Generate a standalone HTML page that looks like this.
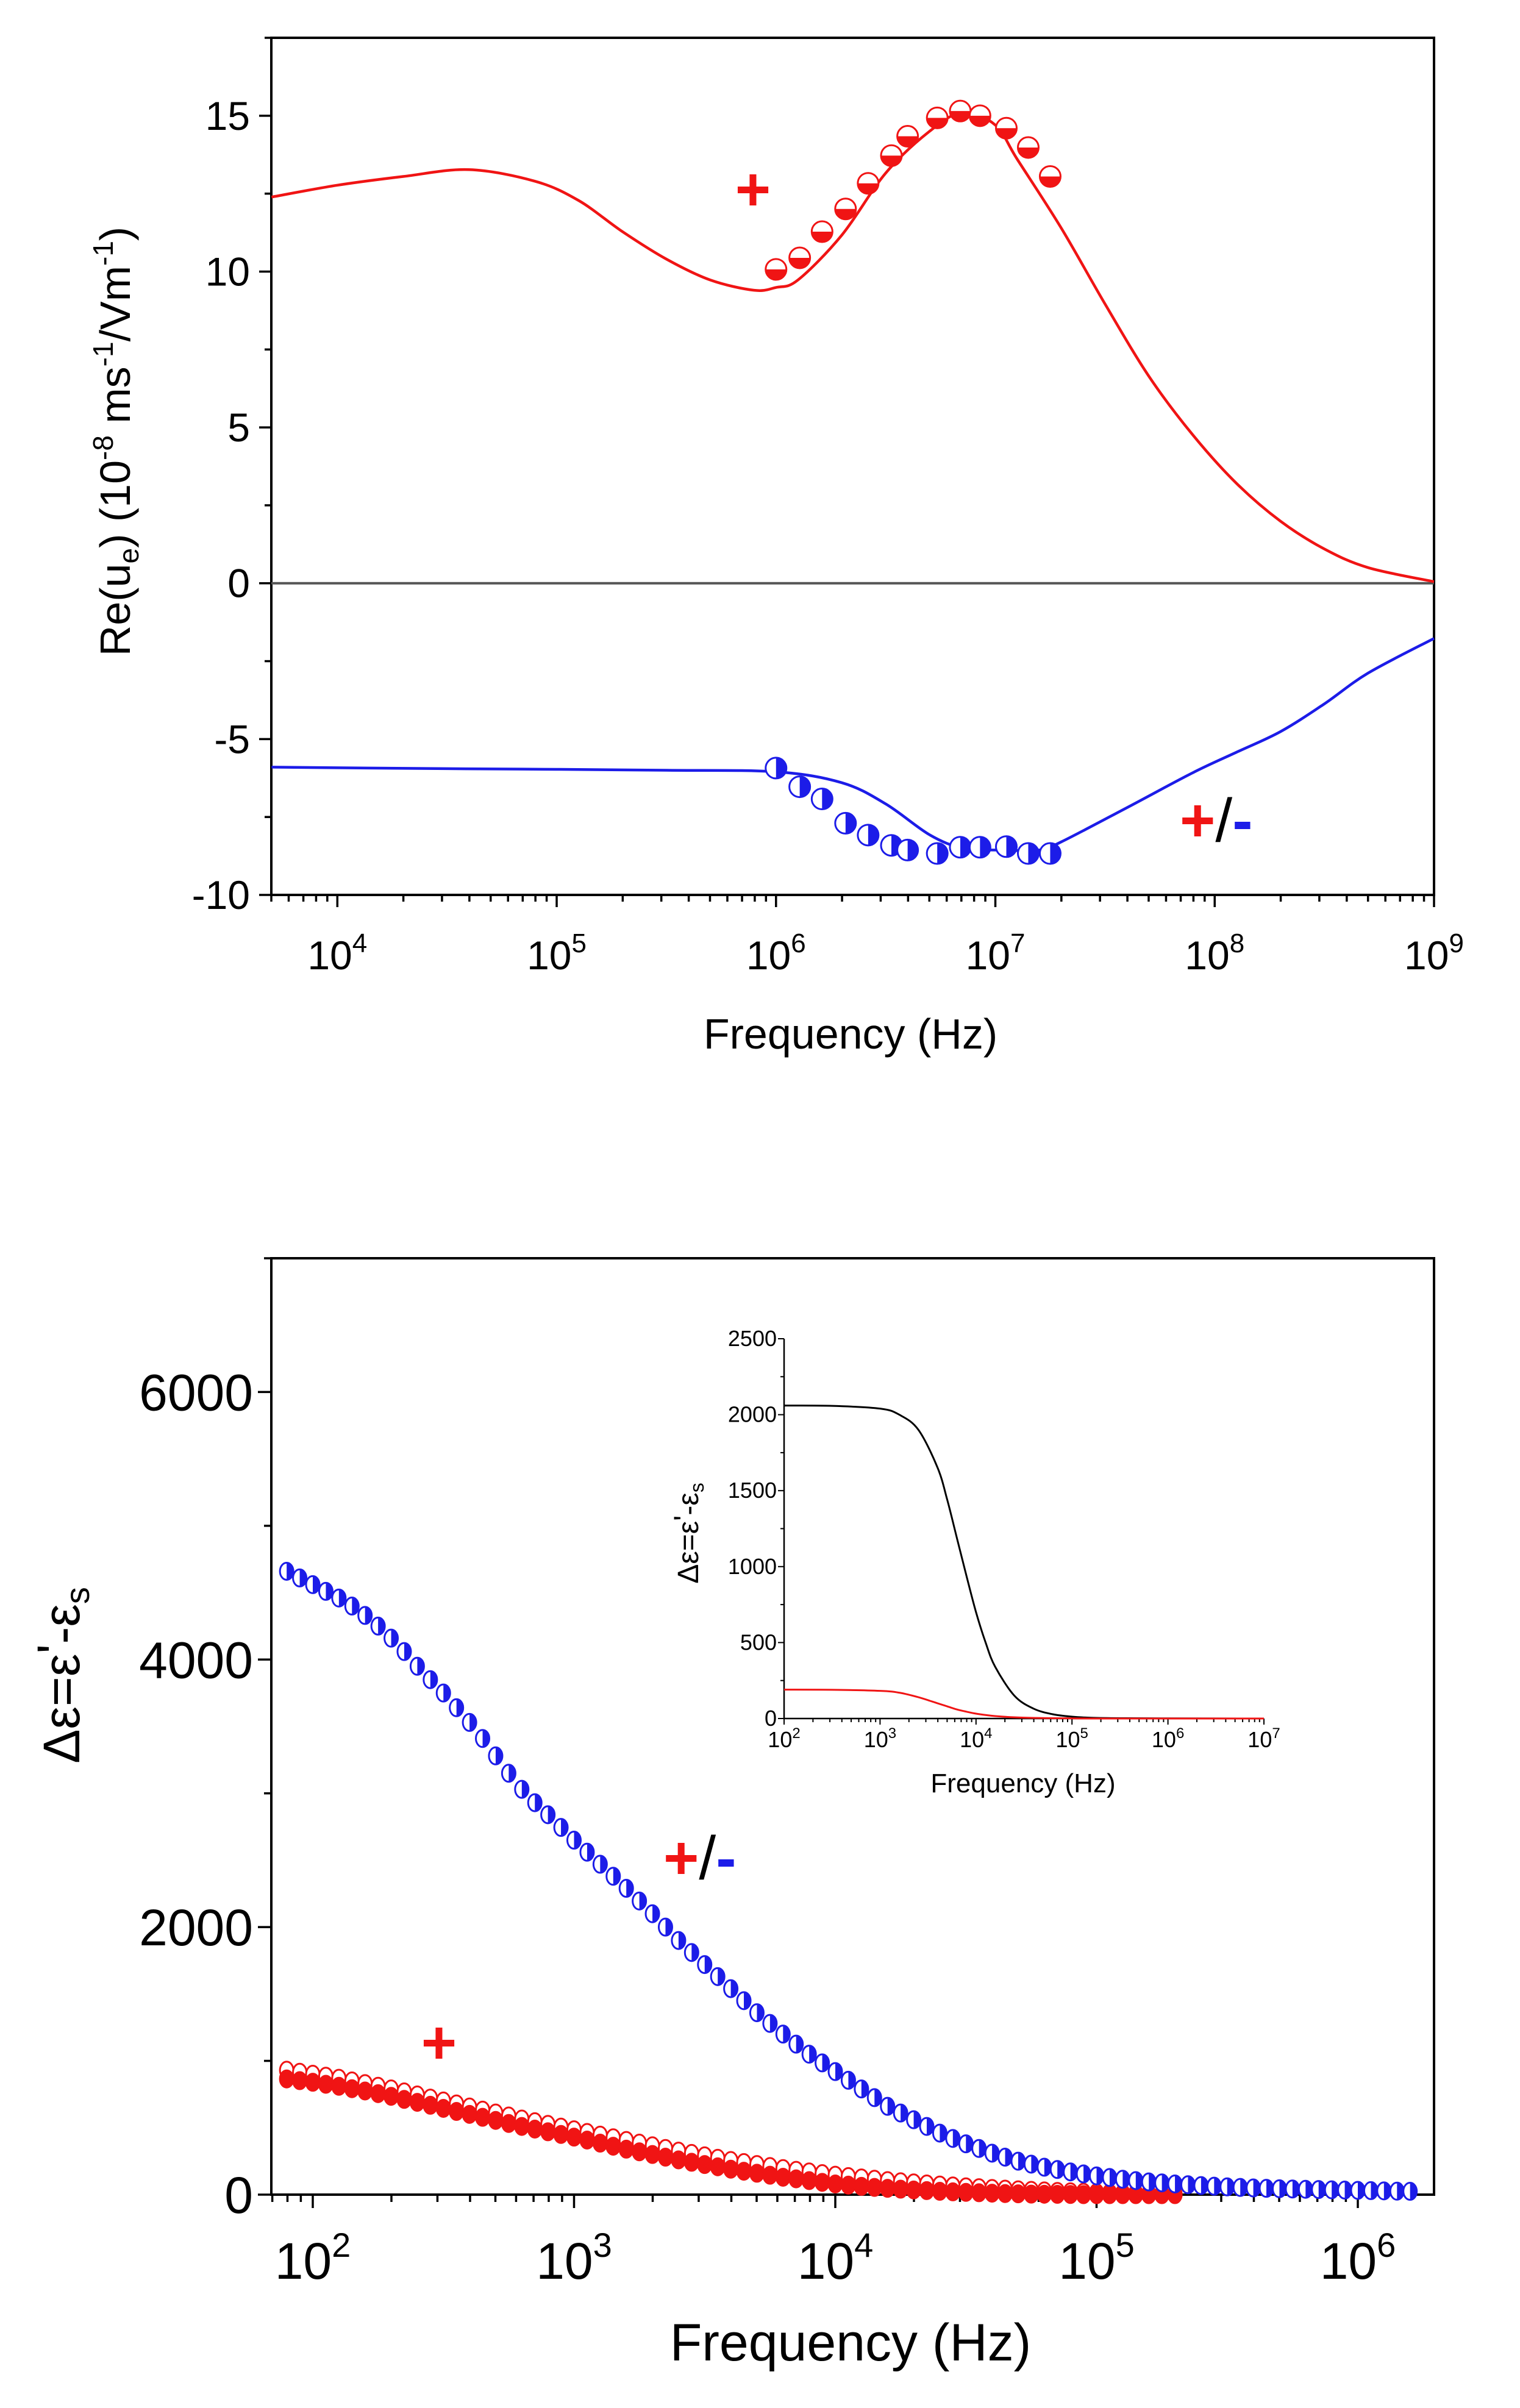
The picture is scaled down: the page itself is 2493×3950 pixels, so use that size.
<!DOCTYPE html>
<html><head><meta charset="utf-8">
<style>
html,body{margin:0;padding:0;background:#fff;}
svg{display:block;font-family:"Liberation Sans",Arial,sans-serif;}
</style></head>
<body>
<svg id="chart" width="2493" height="3950" viewBox="0 0 2493 3950" xmlns="http://www.w3.org/2000/svg">
<rect width="2493" height="3950" fill="#fff"/>
<g id="top"></g>
<g id="bot"></g>
<g id="ins"></g>
</svg>
<script>
// ---------- TOP CHART DATA ----------
const topCurveLogF = [3.7,4.0,4.3,4.6,4.9,5.1,5.3,5.5,5.7,5.9,6.0,6.1,6.3,6.5,6.7,6.85,7.0,7.1,7.3,7.5,7.7,7.9,8.1,8.3,8.5,8.7,9.0];
const topRedCurve = [12.39,12.77,13.05,13.27,12.9,12.28,11.28,10.4,9.73,9.4,9.49,9.73,11.17,13.16,14.5,15.1,14.7,13.6,11.4,8.96,6.64,4.76,3.2,1.99,1.1,0.5,0.05];
const topBlueLogF = [3.7,4.5,5.0,5.5,6.0,6.3,6.5,6.7,6.85,7.0,7.2,7.3,7.6,7.9,8.1,8.3,8.5,8.7,9.0];
const topBlueCurve = [-5.9,-5.95,-5.97,-6.0,-6.05,-6.4,-7.08,-8.07,-8.5,-8.56,-8.56,-8.3,-7.2,-6.08,-5.42,-4.76,-3.87,-2.88,-1.77];
const topPtsLogF = [6.0,6.108,6.21,6.317,6.42,6.526,6.60,6.735,6.84,6.93,7.05,7.15,7.25];
const topRedPts = [10.07,10.44,11.28,12.01,12.83,13.72,14.34,14.93,15.15,15.0,14.6,13.98,13.05];
const topBluePts = [-5.93,-6.53,-6.92,-7.7,-8.08,-8.41,-8.56,-8.67,-8.47,-8.47,-8.45,-8.67,-8.67];
const topYTicks = [-10,-5,0,5,10,15];
const topXTicks = [4,5,6,7,8,9];

// ---------- BOTTOM CHART DATA ----------
const botLogF = [1.9,1.95,2.0,2.05,2.1,2.15,2.2,2.25,2.3,2.35,2.4,2.45,2.5,2.55,2.6,2.65,2.7,2.75,2.8,2.85,2.9,2.95,3.0,3.05,3.1,3.15,3.2,3.25,3.3,3.35,3.4,3.45,3.5,3.55,3.6,3.65,3.7,3.75,3.8,3.85,3.9,3.95,4.0,4.05,4.1,4.15,4.2,4.25,4.3,4.35,4.4,4.45,4.5,4.55,4.6,4.65,4.7,4.75,4.8,4.85,4.9,4.95,5.0,5.05,5.1,5.15,5.2,5.25,5.3,5.35,5.4,5.45,5.5,5.55,5.6,5.65,5.7,5.75,5.8,5.85,5.9,5.95,6.0,6.05,6.1,6.15,6.2];
const botBlue = [4660,4610,4560,4510,4460,4400,4330,4250,4160,4060,3950,3850,3750,3640,3530,3410,3280,3150,3030,2930,2840,2745,2650,2560,2470,2380,2290,2195,2100,2000,1900,1810,1720,1630,1540,1450,1360,1280,1200,1125,1050,985,920,855,790,725,660,610,560,510,460,420,380,345,310,280,250,228,205,188,170,155,140,128,115,105,95,88,80,74,68,63,58,54,50,47,44,42,40,38,36,34,32,30,28,26,25];
const botRedOpen = [930,915,900,885,870,850,830,810,790,768,745,722,700,678,655,632,610,588,565,545,525,505,485,465,445,425,405,385,365,345,325,308,290,272,255,240,225,210,195,182,170,157,145,135,125,115,105,96,88,80,72,65,58,52,46,41,36,32,28,24,21,18,15,12,10,8,6,4,3];
const botRedFilled = [865,852,840,825,810,792,775,755,735,712,690,668,645,622,600,578,555,532,510,490,470,450,430,408,385,362,340,320,300,280,260,242,225,208,190,175,160,145,130,118,105,92,80,71,62,54,47,41,35,30,25,21,17,14,11,8,6,4,3,2,1,0,0,0,0,0,0,0,0];
const botYTicks = [0,2000,4000,6000];
const botXTicks = [2,3,4,5,6];

// ---------- INSET DATA ----------
const insLogF = [2.0,2.5,3.0,3.2,3.4,3.6,3.7,3.8,3.9,4.0,4.1,4.2,4.4,4.6,4.8,5.0,5.2,5.5,6.0,7.0];
const insBlack = [2060,2058,2040,2000,1900,1650,1440,1190,940,700,500,340,150,65,28,12,5,2,1,0];
const insRed = [190,189,182,170,140,100,80,60,45,32,23,16,8,4,2,1,0,0,0,0];
const insYTicks = [0,500,1000,1500,2000,2500];
const insXTicks = [2,3,4,5,6,7];

const NS="http://www.w3.org/2000/svg";
function mk(parent,tag,attrs,text){const e=document.createElementNS(NS,tag);for(const k in attrs)e.setAttribute(k,attrs[k]);if(text!==undefined)e.textContent=text;parent.appendChild(e);return e;}
function smooth(pts){let d=`M${pts[0][0]},${pts[0][1]}`;for(let i=0;i<pts.length-1;i++){const p0=pts[Math.max(0,i-1)],p1=pts[i],p2=pts[i+1],p3=pts[Math.min(pts.length-1,i+2)];const c1=[p1[0]+(p2[0]-p0[0])/6,p1[1]+(p2[1]-p0[1])/6],c2=[p2[0]-(p3[0]-p1[0])/6,p2[1]-(p3[1]-p1[1])/6];d+=` C${c1[0]},${c1[1]} ${c2[0]},${c2[1]} ${p2[0]},${p2[1]}`;}return d;}
const RED="#f01414", BLUE="#1c1ce8";

// ===== TOP =====
(function(){
const g=document.getElementById('top');
const L=445,R=2352,T=62,B=1468;
const xmin=Math.log10(5000),xmax=9,ymin=-10,ymax=17.5;
const X=v=>L+(v-xmin)/(xmax-xmin)*(R-L);
const Y=v=>B-(v-ymin)/(ymax-ymin)*(B-T);
const fr=mk(g,'rect',{x:L,y:T,width:R-L,height:B-T,fill:'none',stroke:'#000','stroke-width':4});


const z=mk(g,'line',{x1:L,x2:R,y1:Y(0),y2:Y(0),stroke:'#555','stroke-width':4});


for(let v=-10;v<=17.5;v+=2.5){const maj=v%5===0;mk(g,'line',{x1:L,x2:L-(maj?20:11),y1:Y(v),y2:Y(v),stroke:'#000','stroke-width':3.5});}
topYTicks.forEach(v=>{const t=mk(g,'text',{x:L-35,y:Y(v)+23,'font-size':66,'text-anchor':'end'},String(v));

});
for(let d=3;d<9;d++){for(let m=1;m<10;m++){const lv=d+Math.log10(m);if(lv<xmin-1e-9||lv>xmax)continue;mk(g,'line',{x1:X(lv),x2:X(lv),y1:B,y2:B+(m===1?20:11),stroke:'#000','stroke-width':3.5});}}
mk(g,'line',{x1:X(9),x2:X(9),y1:B,y2:B+20,stroke:'#000','stroke-width':3.5});
topXTicks.forEach(d=>{const t=mk(g,'text',{x:X(d),y:1590,'font-size':66,'text-anchor':'middle'});


mk(t,'tspan',{},'10');mk(t,'tspan',{'font-size':44,dy:-28},String(d));});
const xt=mk(g,'text',{x:1395,y:1720,'font-size':70,'text-anchor':'middle'},'Frequency (Hz)');


const yt=mk(g,'text',{x:0,y:0,'font-size':70,'text-anchor':'middle',transform:'translate(213,724) rotate(-90)'});


mk(yt,'tspan',{},'Re(u');mk(yt,'tspan',{'font-size':46,dy:14},'e');mk(yt,'tspan',{dy:-14},') (10');
mk(yt,'tspan',{'font-size':46,dy:-28},'-8');mk(yt,'tspan',{dy:28},' ms');mk(yt,'tspan',{'font-size':46,dy:-28},'-1');
mk(yt,'tspan',{dy:28},'/Vm');mk(yt,'tspan',{'font-size':46,dy:-28},'-1');mk(yt,'tspan',{dy:28},')');
const rc=mk(g,'path',{d:smooth(topCurveLogF.map((f,i)=>[X(Math.max(f,xmin)),Y(topRedCurve[i])])),fill:'none',stroke:RED,'stroke-width':4.5});


const bc=mk(g,'path',{d:smooth(topBlueLogF.map((f,i)=>[X(Math.max(f,xmin)),Y(topBlueCurve[i])])),fill:'none',stroke:BLUE,'stroke-width':4.5});


const r=17;
topPtsLogF.forEach((f,i)=>{
 const cx=X(f),cy=Y(topRedPts[i]);
 const m=mk(g,'g',{});
 
 
 mk(m,'circle',{cx,cy,r,fill:'#fff',stroke:RED,'stroke-width':3});
 mk(m,'path',{d:`M${cx-r},${cy} A${r},${r} 0 0 0 ${cx+r},${cy} Z`,fill:RED});
 const bx=X(f),by=Y(topBluePts[i]);
 const n=mk(g,'g',{});
 
 
 mk(n,'circle',{cx:bx,cy:by,r,fill:'#fff',stroke:BLUE,'stroke-width':3});
 mk(n,'path',{d:`M${bx},${by-r} A${r},${r} 0 0 1 ${bx},${by+r} Z`,fill:BLUE});
});
const p1=mk(g,'text',{x:1235,y:345,'font-size':100,'font-weight':'bold','text-anchor':'middle',fill:RED},'+');


const p2=mk(g,'text',{x:1935,y:1380,'font-size':100,'font-weight':'bold'});


mk(p2,'tspan',{fill:RED},'+');mk(p2,'tspan',{fill:'#000','font-weight':'normal'},'/');mk(p2,'tspan',{fill:BLUE},'-');
})();

// ===== BOTTOM =====
(function(){
const g=document.getElementById('bot');
const L=445,R=2352,T=2064,B=3600;
const xmin=2-68/428.5,xmax=6+125/428.5,ymin=0,ymax=7000;
const X=v=>L+(v-xmin)/(xmax-xmin)*(R-L);
const Y=v=>B-(v-ymin)/(ymax-ymin)*(B-T);
const fr=mk(g,'rect',{x:L,y:T,width:R-L,height:B-T,fill:'none',stroke:'#000','stroke-width':4});


for(let v=0;v<=7000;v+=1000){mk(g,'line',{x1:L,x2:L-(v%2000===0?22:12),y1:Y(v),y2:Y(v),stroke:'#000','stroke-width':3.5});}
botYTicks.forEach(v=>{const t=mk(g,'text',{x:L-30,y:Y(v)+30,'font-size':84,'text-anchor':'end'},String(v));

});
for(let d=1;d<7;d++){for(let m=1;m<10;m++){const lv=d+Math.log10(m);if(lv<xmin||lv>xmax)continue;mk(g,'line',{x1:X(lv),x2:X(lv),y1:B,y2:B+(m===1?22:12),stroke:'#000','stroke-width':3.5});}}
botXTicks.forEach(d=>{const t=mk(g,'text',{x:X(d),y:3738,'font-size':84,'text-anchor':'middle'});


mk(t,'tspan',{},'10');mk(t,'tspan',{'font-size':56,dy:-36},String(d));});
const xt=mk(g,'text',{x:1395,y:3872,'font-size':86,'text-anchor':'middle'},'Frequency (Hz)');


const yt=mk(g,'text',{x:0,y:0,'font-size':84,'text-anchor':'middle',transform:'translate(130,2748) rotate(-90)'});


mk(yt,'tspan',{},'Δε=ε');mk(yt,'tspan',{dy:-10},"'");mk(yt,'tspan',{dy:10},'-ε');mk(yt,'tspan',{'font-size':56,dy:16},'s');
const rx=11,ry=14;
botLogF.forEach((f,i)=>{
 if(i<botRedOpen.length){
  const o=mk(g,'ellipse',{cx:X(f),cy:Y(botRedOpen[i]),rx,ry,fill:'#fff',stroke:RED,'stroke-width':3});
  
  
 }
});
botLogF.forEach((f,i)=>{
 if(i<botRedFilled.length){
  const o=mk(g,'ellipse',{cx:X(f),cy:Y(botRedFilled[i]),rx,ry,fill:RED,stroke:RED,'stroke-width':3});
  
  
 }
});
botLogF.forEach((f,i)=>{
 const cx=X(f),cy=Y(botBlue[i]);
 const m=mk(g,'g',{});
 
 
 mk(m,'ellipse',{cx,cy,rx,ry,fill:'#fff',stroke:BLUE,'stroke-width':3});
 mk(m,'path',{d:`M${cx},${cy-ry} A${rx},${ry} 0 0 1 ${cx},${cy+ry} Z`,fill:BLUE});
});
const p1=mk(g,'text',{x:720,y:3385,'font-size':100,'font-weight':'bold','text-anchor':'middle',fill:RED},'+');


const p2=mk(g,'text',{x:1088,y:3082,'font-size':100,'font-weight':'bold'});


mk(p2,'tspan',{fill:RED},'+');mk(p2,'tspan',{fill:'#000','font-weight':'normal'},'/');mk(p2,'tspan',{fill:BLUE},'-');
})();

// ===== INSET =====
(function(){
const g=document.getElementById('ins');
const L=1286,R=2073,T=2196,B=2819;
const xmin=2,xmax=7,ymin=0,ymax=2500;
const X=v=>L+(v-xmin)/(xmax-xmin)*(R-L);
const Y=v=>B-(v-ymin)/(ymax-ymin)*(B-T);
const ax=mk(g,'path',{d:`M${L},${T} V${B} H${R}`,fill:'none',stroke:'#000','stroke-width':2.5});


for(let v=0;v<=2500;v+=250){mk(g,'line',{x1:L,x2:L-(v%500===0?10:6),y1:Y(v),y2:Y(v),stroke:'#000','stroke-width':2});}
insYTicks.forEach(v=>{const t=mk(g,'text',{x:L-12,y:Y(v)+12,'font-size':36,'text-anchor':'end'},String(v));

});
for(let d=2;d<=7;d++){for(let m=1;m<10;m++){const lv=d+Math.log10(m);if(lv>xmax)continue;mk(g,'line',{x1:X(lv),x2:X(lv),y1:B,y2:B+(m===1?10:6),stroke:'#000','stroke-width':2});}}
insXTicks.forEach(d=>{const t=mk(g,'text',{x:X(d),y:2866,'font-size':36,'text-anchor':'middle'});


mk(t,'tspan',{},'10');mk(t,'tspan',{'font-size':24,dy:-15},String(d));});
const xt=mk(g,'text',{x:1678,y:2940,'font-size':44,'text-anchor':'middle'},'Frequency (Hz)');


const yt=mk(g,'text',{x:0,y:0,'font-size':48,'text-anchor':'middle',transform:'translate(1145,2515) rotate(-90)'});


mk(yt,'tspan',{},'Δε=ε');mk(yt,'tspan',{dy:-6},"'");mk(yt,'tspan',{dy:6},'-ε');mk(yt,'tspan',{'font-size':32,dy:9},'s');
const bl=mk(g,'path',{d:smooth(insLogF.map((f,i)=>[X(f),Y(insBlack[i])])),fill:'none',stroke:'#000','stroke-width':3});


const rl=mk(g,'path',{d:smooth(insLogF.map((f,i)=>[X(f),Y(insRed[i])])),fill:'none',stroke:RED,'stroke-width':3});


})();
</script>
</body></html>
